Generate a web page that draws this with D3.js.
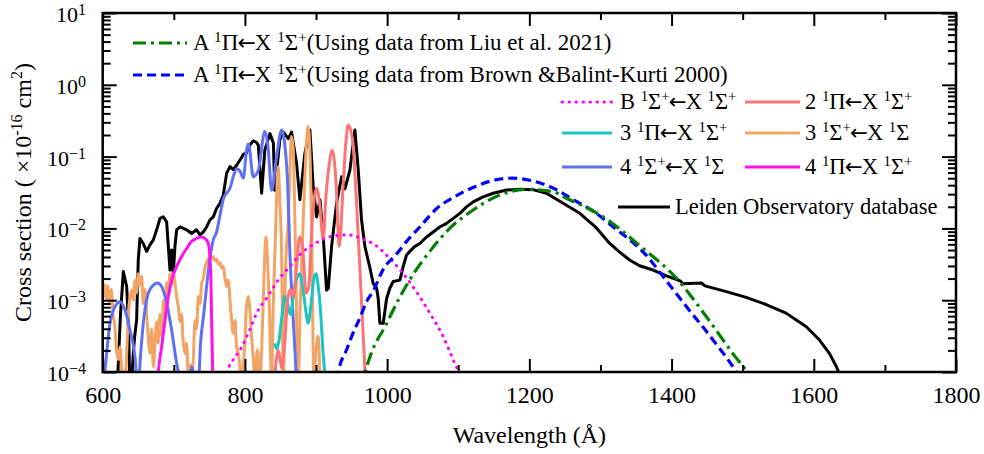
<!DOCTYPE html>
<html>
<head>
<meta charset="utf-8">
<script src="https://cdn.jsdelivr.net/npm/d3@7"></script>
<style>
  body { margin: 0; background: #fff; }
  svg { display: block; font-family: "Liberation Serif", "Times New Roman", serif; }
</style>
</head>
<body>
<svg id="chart" width="984" height="454"></svg>
<script>
// ---- data: [wavelength (Å), log10 cross section (1e-16 cm^2)] ----
const leiden = [[621,-4.1],[625,-3.2],[629,-2.6],[633.7,-2.81],[636,-3.28],[638,-4.1],[641,-4.1],[643,-3.74],[645,-3.5],[647.7,-3.28],[650,-2.44],[652.4,-2.14],[657,-2.21],[661.8,-2.32],[666.5,-2.23],[671.2,-2.16],[675.9,-2.02],[680.6,-1.86],[685.2,-1.84],[689.9,-1.91],[692.3,-2.25],[694.6,-2.58],[697,-2.3],[699.3,-2.63],[701.6,-2.25],[704,-2.02],[708.7,-1.98],[713.4,-2.0],[718,-2.02],[725,-2.07],[732,-2.02],[736.8,-2.09],[741.5,-2.05],[746.2,-1.98],[750.8,-1.88],[755.5,-1.84],[760.2,-1.72],[764.9,-1.65],[769.6,-1.535],[774.3,-1.23],[779,-1.14],[783.6,-1.18],[788.3,-1.12],[793,-1.05],[797.7,-0.97],[802,-0.95],[807,-0.84],[811.7,-0.78],[816,-0.8],[818.8,-0.84],[823.5,-1.51],[828,-0.91],[835.2,-0.68],[840,-0.81],[842,-1.47],[849,-0.77],[854,-0.66],[861,-0.75],[865.6,-0.66],[872.7,-1.1],[877.3,-1.6],[884.4,-0.95],[891.4,-0.63],[896,-1.42],[900.8,-1.84],[905.5,-1.6],[910.2,-2.12],[914.8,-2.86],[917.2,-2.84],[921.9,-2.25],[928.9,-1.65],[936,-1.28],[940.6,-1.45],[947.6,-1.19],[954.7,-0.63],[959.4,-1.19],[964,-1.88],[968.7,-2.25],[975.8,-2.55],[980.5,-2.77],[985.2,-2.83],[987.5,-2.98],[989.8,-3.32],[994.5,-3.32],[999.2,-2.98],[1003.9,-2.83],[1008.6,-2.74],[1018,-2.72],[1022.6,-2.53],[1027.3,-2.37],[1032,-2.32],[1039,-2.25],[1046,-2.21],[1055.4,-2.12],[1064.8,-2.05],[1074,-1.98],[1083.6,-1.93],[1093,-1.86],[1102.3,-1.79],[1111.7,-1.7],[1121,-1.63],[1135,-1.56],[1149,-1.51],[1168,-1.465],[1186.6,-1.456],[1205,-1.46],[1224,-1.51],[1247.5,-1.65],[1271,-1.79],[1294,-1.99],[1313,-2.21],[1327,-2.33],[1341,-2.44],[1355,-2.52],[1374,-2.58],[1393,-2.66],[1412,-2.73],[1416,-2.77],[1442,-2.76],[1447,-2.8],[1477,-2.88],[1505,-2.96],[1533,-3.06],[1561,-3.18],[1589.5,-3.37],[1608,-3.555],[1622,-3.74],[1632,-3.93],[1637,-4.05],[1640,-4.2]];

const aLiu = [[962,-4.25],[969,-4.0],[980,-3.68],[997,-3.37],[1015.5,-3.0],[1036.6,-2.64],[1060,-2.32],[1088,-2.0],[1121,-1.744],[1158.5,-1.535],[1196,-1.455],[1233,-1.489],[1252,-1.58],[1299,-1.81],[1360,-2.28],[1407,-2.695],[1449,-3.23],[1486,-3.74],[1510,-4.05],[1520,-4.2]];

const aBrown = [[926,-4.3],[933,-3.93],[943,-3.69],[952,-3.46],[962,-3.24],[971,-3.02],[980,-2.88],[994.5,-2.57],[1013,-2.36],[1030,-2.15],[1046,-1.98],[1070,-1.72],[1093,-1.57],[1121,-1.43],[1150,-1.33],[1177,-1.3],[1205,-1.34],[1234,-1.44],[1262,-1.6],[1294,-1.79],[1318,-1.98],[1346,-2.2],[1365,-2.38],[1388,-2.67],[1421,-3.09],[1458,-3.55],[1491,-4.0],[1500,-4.15]];

const bSigma = [[770,-4.2],[776.6,-3.95],[783.6,-3.83],[795,-3.66],[807,-3.41],[816.5,-3.18],[830.5,-2.97],[846.8,-2.72],[863,-2.53],[875,-2.39],[903,-2.185],[924,-2.106],[945,-2.09],[966,-2.15],[980,-2.21],[1004,-2.42],[1022.5,-2.63],[1041,-2.88],[1060,-3.18],[1079,-3.51],[1095,-3.88],[1100,-4.0],[1104,-4.2]];

const pi2 = [[840,-4.3],[842,-4.05],[847,-3.7],[852,-3.95],[856,-3.6],[860,-3.0],[864,-2.85],[868,-2.95],[873,-2.5],[877,-2.12],[881,-2.25],[886,-2.9],[890,-2.8],[894,-2.0],[900.8,-1.44],[905.5,-1.7],[910,-2.15],[914,-1.55],[918,-1.15],[923,-0.91],[928,-1.33],[932.7,-2.25],[938.3,-1.37],[942,-0.8],[945.3,-0.56],[951.4,-0.77],[956.1,-1.47],[960.8,-2.39],[965.5,-3.32],[968.8,-3.97],[971,-4.3]];

const pi3 = [[842,-3.6],[845,-3.68],[848,-3.55],[852,-3.23],[856,-2.95],[860,-3.05],[864,-3.2],[868,-2.95],[873,-2.7],[877,-2.63],[881,-2.8],[885,-3.1],[889,-3.32],[893,-3.05],[897,-2.7],[900,-2.63],[903,-2.8],[906,-3.1],[910,-3.74],[913,-4.1],[915,-4.3]];

const sigma3 = [[600,-2.77],[601.5,-2.95],[603,-2.78],[605,-2.98],[607,-2.8],[609.5,-3.05],[612,-2.85],[614.5,-3.2],[617,-3.35],[619,-3.65],[622,-3.83],[624.3,-3.65],[627,-4.0],[630,-4.3],[633,-3.9],[636,-3.2],[638.5,-2.95],[640.7,-2.86],[643,-3.0],[645.4,-2.72],[647.7,-2.9],[650,-2.63],[652.4,-2.78],[654.8,-2.67],[657,-3.05],[659.5,-2.85],[661.8,-3.18],[664,-3.51],[666.5,-3.74],[669,-3.4],[671.2,-3.93],[673.5,-3.6],[676,-3.3],[678,-3.6],[680.5,-3.2],[683,-3.5],[685.5,-3.0],[688,-3.2],[690,-2.75],[692.5,-2.9],[694.6,-2.63],[697,-2.8],[699.3,-2.62],[701.6,-2.75],[704,-2.95],[706.3,-3.09],[709,-3.3],[711,-3.2],[713,-3.55],[715.7,-3.74],[718,-3.6],[720.4,-4.1],[723,-3.9],[725,-4.2],[727.5,-3.8],[729.8,-3.28],[732,-3.4],[734.5,-2.95],[737,-3.05],[739.1,-2.77],[741.5,-2.7],[743.8,-2.55],[746,-2.48],[748.5,-2.42],[752,-2.42],[755.5,-2.39],[758,-2.45],[760.2,-2.43],[763,-2.5],[765,-2.48],[767.5,-2.55],[769.6,-2.53],[772,-2.7],[774.3,-2.81],[776.6,-2.72],[779,-3.0],[781.3,-3.28],[783.6,-3.46],[786,-3.28],[788.3,-3.65],[790.7,-3.74],[793,-3.93],[795.3,-4.1],[797.7,-3.9],[800,-3.6],[802,-3.1],[804.7,-2.95],[807,-3.15],[809.4,-3.51],[812,-3.85],[814,-4.1],[817.4,-3.69],[821,-4.1],[823.5,-3.7],[825.8,-3.0],[829.6,-2.12],[832,-2.5],[834.2,-3.04],[837.5,-4.1],[840,-3.0],[842.2,-2.35],[846.9,-1.14],[849,-1.6],[851.6,-2.35],[853.9,-4.1],[857,-2.6],[861,-1.88],[865.6,-0.72],[868,-0.9],[870.3,-1.88],[875,-4.1],[878,-3.0],[882,-1.88],[889,-0.58],[893.7,-1.88],[897,-4.1],[900,-3.7],[903,-3.5],[906,-4.3]];

const sigma4 = [[600,-4.3],[603,-4.0],[610.3,-3.32],[617.3,-3.09],[624.3,-3.02],[631.4,-3.14],[638.4,-3.42],[645.4,-3.79],[649.5,-4.3],[653,-3.8],[657.1,-3.32],[664.2,-2.9],[671.2,-2.79],[676.8,-2.76],[682.9,-2.81],[690,-3.04],[697,-3.42],[704,-3.88],[706.3,-4.0],[712,-4.5],[722,-4.2],[725.5,-3.93],[729,-4.2],[733,-4.4],[738,-3.55],[742,-3.2],[746.2,-2.8],[750.8,-2.42],[755.5,-2.16],[760.2,-2.05],[764.9,-1.82],[769.6,-1.59],[774.3,-1.51],[779,-1.44],[783.6,-1.28],[788.3,-1.17],[793,-1.2],[797.7,-1.3],[802.4,-0.9],[805,-0.82],[811.7,-1.28],[818.8,-1.19],[828,-0.65],[832.9,-0.91],[837.5,-1.47],[844.6,-1.0],[851.6,-0.63],[856.3,-0.85],[860,-1.35],[863.3,-2.35],[868,-3.28],[871.7,-3.97],[873,-4.3]];

const pi4 = [[676,-4.3],[678.2,-4.0],[682.9,-3.65],[687.6,-3.28],[692.3,-2.95],[697,-2.72],[704,-2.53],[711,-2.39],[718,-2.28],[725,-2.18],[732,-2.14],[739.1,-2.12],[743.8,-2.14],[748.5,-2.21],[751.8,-2.58],[753.2,-3.28],[754.6,-3.97],[755.5,-4.3]];

const xTickValues = [600, 800, 1000, 1200, 1400, 1600, 1800];
const xMinorValues = [700, 900, 1100, 1300, 1500, 1700];
const yExponents = [1, 0, -1, -2, -3, -4];

// ---- layout ----
const svg = d3.select("#chart");
const L = 102.7, R = 956, T = 13, B = 372;
const x = d3.scaleLinear().domain([600, 1800]).range([L, R]);
const y = d3.scaleLog().domain([1e-4, 10]).range([B, T]);

svg.append("defs").append("clipPath").attr("id", "plotClip")
  .append("rect").attr("x", L).attr("y", T).attr("width", R - L).attr("height", B - T);

const line = (curve) => d3.line()
  .x(d => x(d[0]))
  .y(d => y(Math.pow(10, d[1])))
  .curve(curve);

const plot = svg.append("g").attr("clip-path", "url(#plotClip)");

const series = [
  { data: leiden, color: "#000", width: 3, dash: null, curve: d3.curveLinear },
  { data: sigma3, color: "#f2a465", width: 3, dash: null, curve: d3.curveMonotoneX },
  { data: sigma4, color: "#5f70f2", width: 3, dash: null, curve: d3.curveMonotoneX },
  { data: pi4, color: "#ff10f0", width: 3, dash: null, curve: d3.curveMonotoneX },
  { data: pi3, color: "#1cc5c5", width: 3, dash: null, curve: d3.curveMonotoneX },
  { data: pi2, color: "#fa7575", width: 3, dash: null, curve: d3.curveMonotoneX },
  { data: bSigma, color: "#ff00ff", width: 3, dash: "0.5,6.5", cap: "round", curve: d3.curveMonotoneX },
  { data: aBrown, color: "#0000ff", width: 3.2, dash: "9,5", curve: d3.curveMonotoneX },
  { data: aLiu, color: "#008000", width: 3.2, dash: "13,5,3,5", curve: d3.curveMonotoneX }
];

series.forEach(s => {
  plot.append("path")
    .datum(s.data)
    .attr("fill", "none")
    .attr("stroke", s.color)
    .attr("stroke-width", s.width)
    .attr("stroke-dasharray", s.dash)
    .attr("stroke-linecap", s.cap || "butt")
    .attr("stroke-linejoin", "round")
    .attr("d", line(s.curve));
});

// ---- axes (inward ticks on all four sides) ----
const tickStyle = g => {
  g.select(".domain").remove();
  g.selectAll(".tick line").attr("stroke", "#000").attr("stroke-width", 2);
};
const MAJ = 13, MIN = 7;

svg.append("g").attr("transform", `translate(0,${B})`)
  .call(d3.axisBottom(x).tickValues(xTickValues).tickSize(-MAJ).tickPadding(14).tickFormat(d3.format("d")))
  .call(tickStyle)
  .call(g => g.selectAll(".tick text").attr("font-size", 24).attr("fill", "#000")
    .attr("font-family", "Liberation Serif, serif").attr("dy", "0.71em"));
svg.append("g").attr("transform", `translate(0,${B})`)
  .call(d3.axisBottom(x).tickValues(xMinorValues).tickSize(-MIN).tickFormat(""))
  .call(tickStyle);
svg.append("g").attr("transform", `translate(0,${T})`)
  .call(d3.axisTop(x).tickValues(xTickValues).tickSize(-MAJ).tickFormat(""))
  .call(tickStyle);
svg.append("g").attr("transform", `translate(0,${T})`)
  .call(d3.axisTop(x).tickValues(xMinorValues).tickSize(-MIN).tickFormat(""))
  .call(tickStyle);

const yMajor = yExponents.map(e => Math.pow(10, e));
const yMinor = [];
yExponents.filter(e => e < 1).forEach(e => { for (let m = 2; m <= 9; m++) yMinor.push(m * Math.pow(10, e)); });

[[d3.axisLeft, L], [d3.axisRight, R]].forEach(([axisFn, pos]) => {
  svg.append("g").attr("transform", `translate(${pos},0)`)
    .call(axisFn(y).tickValues(yMajor).tickSize(-14).tickFormat(""))
    .call(tickStyle);
  svg.append("g").attr("transform", `translate(${pos},0)`)
    .call(axisFn(y).tickValues(yMinor).tickSize(-8).tickFormat(""))
    .call(tickStyle);
});

// y tick labels: 10 with superscript exponent
yExponents.forEach(e => {
  const t = svg.append("text")
    .attr("x", 86).attr("y", y(Math.pow(10, e)) + 9)
    .attr("text-anchor", "end").attr("fill", "#000");
  t.append("tspan").attr("font-size", 22).text("10");
  t.append("tspan").attr("font-size", 16).attr("dy", -7)
    .text(e < 0 ? "\u2212" + Math.abs(e) : String(e));
});

// frame
svg.append("rect").attr("x", L).attr("y", T).attr("width", R - L).attr("height", B - T)
  .attr("fill", "none").attr("stroke", "#000").attr("stroke-width", 2.5);

// axis titles
svg.append("text").attr("x", (L + R) / 2).attr("y", 443).attr("text-anchor", "middle")
  .attr("font-size", 24).text("Wavelength (\u00C5)");

const yTitle = svg.append("text")
  .attr("transform", `translate(31,${(T + B) / 2}) rotate(-90)`)
  .attr("text-anchor", "middle").attr("font-size", 24);
yTitle.append("tspan").text("Cross section ( \u00D710");
yTitle.append("tspan").attr("font-size", 16).attr("dy", -9).text("-16");
yTitle.append("tspan").attr("dy", 9).text(" cm");
yTitle.append("tspan").attr("font-size", 16).attr("dy", -9).text("2");
yTitle.append("tspan").attr("dy", 9).text(")");

// ---- legend ----
function richText(sel, str, size) {
  // "^{...}" marks a superscript run; the arrow uses a wider glyph, set tight
  const parts = str.split(/(\^\{[^}]*\}|\u2190)/).filter(s => s);
  let raised = false;
  let pull = 0;
  const shift = size * 0.36;
  parts.forEach(p => {
    if (p.startsWith("^{")) {
      sel.append("tspan").attr("font-size", size * 0.66).attr("dy", raised ? 0 : -shift)
        .attr("dx", pull).text(p.slice(2, -1));
      raised = true; pull = 0;
    } else if (p === "\u2190") {
      sel.append("tspan").attr("font-size", size * 0.95).attr("font-family", "DejaVu Sans")
        .attr("dy", raised ? shift : 0).attr("dx", -size * 0.04).text(p);
      raised = false; pull = -size * 0.04;
    } else {
      sel.append("tspan").attr("font-size", size).attr("dy", raised ? shift : 0)
        .attr("dx", pull).text(p);
      raised = false; pull = 0;
    }
  });
}

const legendItems = [
  { s: series[8], label: "A ^{1}\u03A0\u2190X ^{1}\u03A3^{+}(Using data from Liu et al. 2021)", x0: 133, x1: 187, tx: 193, y: 43, fs: 23 },
  { s: series[7], label: "A ^{1}\u03A0\u2190X ^{1}\u03A3^{+}(Using data from Brown &Balint-Kurti 2000)", x0: 133, x1: 187, tx: 193, y: 75, fs: 23 },
  { s: series[6], label: "B ^{1}\u03A3^{+}\u2190X ^{1}\u03A3^{+}", x0: 562, x1: 612, tx: 620, y: 102, fs: 22.5 },
  { s: series[5], label: "2 ^{1}\u03A0\u2190X ^{1}\u03A3^{+}", x0: 745, x1: 800, tx: 805, y: 102, fs: 22.5 },
  { s: series[4], label: "3 ^{1}\u03A0\u2190X ^{1}\u03A3^{+}", x0: 562, x1: 612, tx: 620, y: 133, fs: 22.5 },
  { s: series[1], label: "3 ^{1}\u03A3^{+}\u2190X ^{1}\u03A3", x0: 745, x1: 800, tx: 805, y: 133, fs: 22.5 },
  { s: series[2], label: "4 ^{1}\u03A3^{+}\u2190X ^{1}\u03A3", x0: 562, x1: 612, tx: 620, y: 167, fs: 22.5 },
  { s: series[3], label: "4 ^{1}\u03A0\u2190X ^{1}\u03A3^{+}", x0: 745, x1: 800, tx: 805, y: 167, fs: 22.5 },
  { s: series[0], label: "Leiden Observatory database", x0: 618, x1: 670, tx: 675, y: 207, fs: 22.5 }
];

const lg = svg.append("g");
legendItems.forEach(it => {
  lg.append("line").attr("x1", it.x0).attr("x2", it.x1).attr("y1", it.y).attr("y2", it.y)
    .attr("stroke", it.s.color).attr("stroke-width", it.s.width)
    .attr("stroke-dasharray", it.s.dash).attr("stroke-linecap", it.s.cap || "butt");
  const t = lg.append("text").attr("x", it.tx).attr("y", it.y + 7).attr("fill", "#000");
  richText(t, it.label, it.fs);
});
</script>
</body>
</html>
